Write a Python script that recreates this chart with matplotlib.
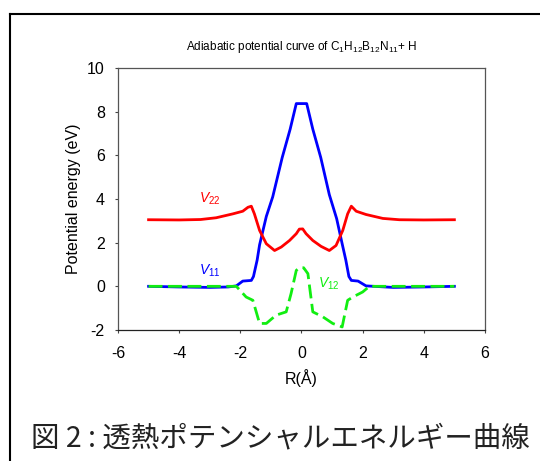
import matplotlib
matplotlib.use('Agg')
import matplotlib.pyplot as plt
from matplotlib.lines import Line2D

plt.rcParams['font.family'] = ['Liberation Sans', 'DejaVu Sans']
plt.rcParams['mathtext.fontset'] = 'custom'
plt.rcParams['mathtext.rm'] = 'Liberation Sans'
plt.rcParams['mathtext.it'] = 'Liberation Sans:italic'
plt.rcParams['axes.unicode_minus'] = False

# curves
r11 = [-5.0, -4.0, -3.0, -2.4, -2.13, -1.92, -1.64, -1.57, -1.45, -1.37, -1.15, -0.94, -0.63,
       -0.37, -0.17, 0.17, 0.37, 0.63, 0.91, 1.15, 1.33, 1.45, 1.55, 1.63, 1.85, 2.11, 3.0, 4.0, 5.0]
v11 = [0.0, -0.03, -0.05, -0.03, 0.02, 0.24, 0.27, 0.45, 1.2, 1.9, 3.2, 4.1, 5.9,
       7.2, 8.37, 8.37, 7.2, 5.9, 4.2, 3.1, 1.95, 1.2, 0.45, 0.27, 0.24, 0.02, -0.05, -0.03, 0.0]

r22 = [-5.0, -4.0, -3.3, -2.79, -2.24, -1.92, -1.75, -1.64, -1.54, -1.37, -1.15, -0.88, -0.66,
       -0.39, -0.17, -0.07, 0.04, 0.15, 0.37, 0.64, 0.91, 1.13, 1.35, 1.51, 1.63, 1.79, 2.11,
       2.66, 3.2, 4.0, 5.0]
v22 = [3.05, 3.04, 3.06, 3.14, 3.32, 3.44, 3.62, 3.67, 3.32, 2.56, 1.95, 1.64, 1.80,
       2.10, 2.41, 2.62, 2.63, 2.41, 2.10, 1.83, 1.64, 1.87, 2.56, 3.32, 3.67, 3.44, 3.29,
       3.11, 3.05, 3.04, 3.05]

r12 = [-5.0, -3.0, -2.13, -1.81, -1.59, -1.37, -1.15, -0.83, -0.50, -0.34, -0.17, -0.07,
       0.07, 0.21, 0.37, 0.70, 1.02, 1.33, 1.51, 1.68, 2.0, 2.22, 3.0, 5.0]
v12 = [0.0, 0.0, 0.0, -0.49, -0.64, -1.7, -1.7, -1.32, -1.17, -0.33, 0.73, 0.85,
       0.85, 0.58, -1.17, -1.4, -1.7, -1.86, -0.64, -0.49, -0.26, 0.0, 0.0, 0.0]

xticks = [-6, -4, -2, 0, 2, 4, 6]
yticks = [-2, 0, 2, 4, 6, 8, 10]

fig = plt.figure(figsize=(5.4, 4.61), dpi=100)
ax = fig.add_axes([0.2185, 0.2842, 0.6796, 0.5683])

ax.plot(r11, v11, color='#0000ff', lw=2.0, zorder=2)
ax.plot(r22, v22, color='#ff0000', lw=2.0, zorder=2)
ax.plot(r12, v12, color='#11ee11', lw=2.0, ls=(0, (5, 2)), zorder=3)

ax.text(-3.35, 3.85, r'$V_{22}$', color='#ff0000', fontsize=10)
ax.text(-3.35, 0.55, r'$V_{11}$', color='#0000ff', fontsize=10)
ax.text(0.55, -0.05, r'$V_{12}$', color='#11ee11', fontsize=10)

ax.set_xlim(-6, 6)
ax.set_ylim(-2, 10)
ax.set_xticks(xticks)
ax.set_yticks(yticks)
ax.tick_params(direction='out', length=2.5, width=0.8, color='#444444', labelsize=11.5)
ax.tick_params(axis='x', pad=9)
ax.tick_params(axis='y', pad=7)
for s in ax.spines.values():
    s.set_color('#555555')
    s.set_linewidth(0.9)
ax.spines['bottom'].set_color('#222222')

ax.set_xlabel('R(Å)', fontsize=11.5, labelpad=6)
ax.set_ylabel('Potential energy (eV)', fontsize=11.5, labelpad=4)
ax.set_title(r'Adiabatic potential curve of C$_1$H$_{12}$B$_{12}$N$_{11}$+ H', fontsize=8.5, pad=13)

# outer frame (left and top edges)
fig.add_artist(Line2D([10 / 540, 10 / 540], [0, 1 - 14 / 461], color='black', lw=1.5,
                      transform=fig.transFigure))
fig.add_artist(Line2D([10 / 540, 1], [1 - 14 / 461, 1 - 14 / 461], color='black', lw=1.5,
                      transform=fig.transFigure))

fig.text(0.5 + 0.02, 1 - 438 / 461, '図 2 : 透熱ポテンシャルエネルギー曲線', fontsize=20.5,
         family=['Noto Sans CJK JP', 'DejaVu Sans'], ha='center', va='center', color='#222222')

fig.savefig('out.png', dpi=100)
